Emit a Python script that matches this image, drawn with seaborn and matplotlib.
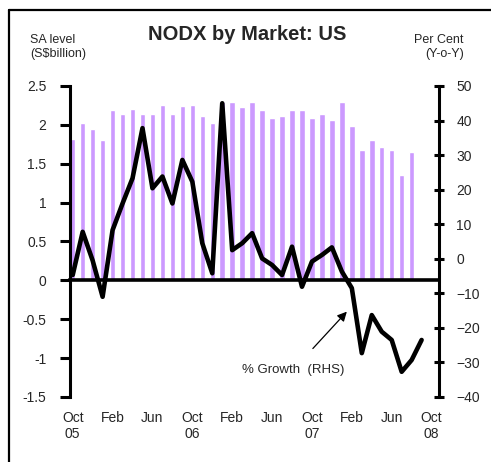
import numpy as np
import pandas as pd
import matplotlib
matplotlib.use('Agg')
import matplotlib.pyplot as plt
import seaborn as sns
from matplotlib.lines import Line2D
import matplotlib.transforms as mtransforms

# monthly data, Oct 05 .. Sep 08
sa_level = [1.82, 2.02, 1.95, 1.80, 2.19, 2.14, 2.21, 2.14, 2.14, 2.26, 2.14, 2.24,
            2.26, 2.12, 2.02, 2.30, 2.29, 2.23, 2.29, 2.19, 2.09, 2.11, 2.19, 2.19,
            2.09, 2.14, 2.06, 2.29, 1.99, 1.68, 1.80, 1.72, 1.68, 1.35, 1.65]
growth = [-4.7, 7.8, -0.5, -11, 8.3, 16, 23.3, 37.8, 20.4, 23.8, 16, 28.6,
          22.3, 4.5, -4.2, 45, 2.5, 4.5, 7.4, 0.1, -1.8, -4.7, 3.5, -8.1,
          -0.8, 1.1, 3.3, -3.7, -8.5, -27.3, -16.3, -21.1, -23.5, -32.7, -29.3, -23.5]
tick_pos = [0, 4, 8, 12, 16, 20, 24, 28, 32, 36]
tick_labels = ['Oct\n05', 'Feb', 'Jun', 'Oct\n06', 'Feb', 'Jun', 'Oct\n07', 'Feb', 'Jun', 'Oct\n08']
left_ticks = [-1.5, -1, -0.5, 0, 0.5, 1, 1.5, 2, 2.5]
right_ticks = [-40, -30, -20, -10, 0, 10, 20, 30, 40, 50]

bars = pd.DataFrame({'month': np.arange(len(sa_level)), 'level': sa_level})
line = pd.DataFrame({'month': np.arange(len(growth)), 'growth': growth})

sns.set_theme(style='white')
plt.rcParams['font.family'] = ['Liberation Sans', 'DejaVu Sans']

fig = plt.figure(figsize=(4.91, 4.62), dpi=100)
ax = fig.add_axes([0.1426, 0.1407, 0.894 - 0.1426, 0.8139 - 0.1407])

sns.barplot(data=bars, x='month', y='level', native_scale=True, color='#CC99FF',
            saturation=1, width=0.55, ax=ax)
ax.set_xlim(-0.27, 36.74)
ax.set_ylim(-1.5, 2.5)
ax.set_yticks(left_ticks)
ax.set_yticklabels(['-1.5', '-1', '-0.5', '0', '0.5', '1', '1.5', '2', '2.5'])
ax.set_xlabel('')
ax.set_ylabel('')

# x axis sits on zero with small month ticks
ax.spines['bottom'].set_position(('data', 0))
ax.spines['top'].set_visible(False)
ax.spines['right'].set_visible(False)
ax.spines['left'].set_linewidth(2.2)
ax.spines['bottom'].set_linewidth(2.6)
for s in ['left', 'bottom']:
    ax.spines[s].set_color('black')
ax.set_xticks(np.arange(len(growth)) + 0.5)
ax.set_xticklabels([])
ax.tick_params(axis='x', direction='inout', length=8, width=2.4, color='black')
ax.tick_params(axis='y', direction='out', length=7, width=2.2, color='black',
               labelsize=10, pad=10, left=True)

trans = mtransforms.blended_transform_factory(ax.transData, ax.transAxes)
for p, lab in zip(tick_pos, tick_labels):
    ax.text(p, -0.045, lab, transform=trans, ha='center', va='top', fontsize=10,
            linespacing=1.2)

ax2 = ax.twinx()
sns.lineplot(data=line, x='month', y='growth', color='black', linewidth=3.3, ax=ax2)
ax2.set_ylim(-40, 50)
ax2.set_xlim(-0.27, 36.74)
ax2.set_yticks(right_ticks)
ax2.set_ylabel('')
ax2.set_xlabel('')
for s in ['left', 'top', 'bottom']:
    ax2.spines[s].set_visible(False)
ax2.spines['right'].set_linewidth(2.2)
ax2.spines['right'].set_color('black')
ax2.tick_params(axis='y', direction='inout', length=7, width=2.2, color='black',
                labelsize=10, pad=9, right=True)

ax2.annotate('% Growth  (RHS)', xy=(27.5, -15.3), xytext=(22.1, -32.2),
             ha='center', va='center', fontsize=9.5,
             arrowprops=dict(arrowstyle='-|>', color='black', lw=0.9,
                             mutation_scale=14, shrinkA=12, shrinkB=0))

fig.text(0.503, 0.925, 'NODX by Market: US', ha='center', va='center',
         fontsize=14.5, fontweight='bold')
fig.text(0.061, 0.898, 'SA level\n(S$billion)', ha='left', va='center', fontsize=9,
         linespacing=1.15)
fig.text(0.945, 0.898, 'Per Cent\n(Y-o-Y)', ha='right', va='center', fontsize=9,
         linespacing=1.15, multialignment='right')

# frame around the chart (left and top edges visible)
fig.add_artist(Line2D([0.0183, 0.0183], [0, 0.978], color='black', lw=1.6))
fig.add_artist(Line2D([0.0183, 1.0], [0.978, 0.978], color='black', lw=1.6))

fig.savefig('out.png', dpi=100)
